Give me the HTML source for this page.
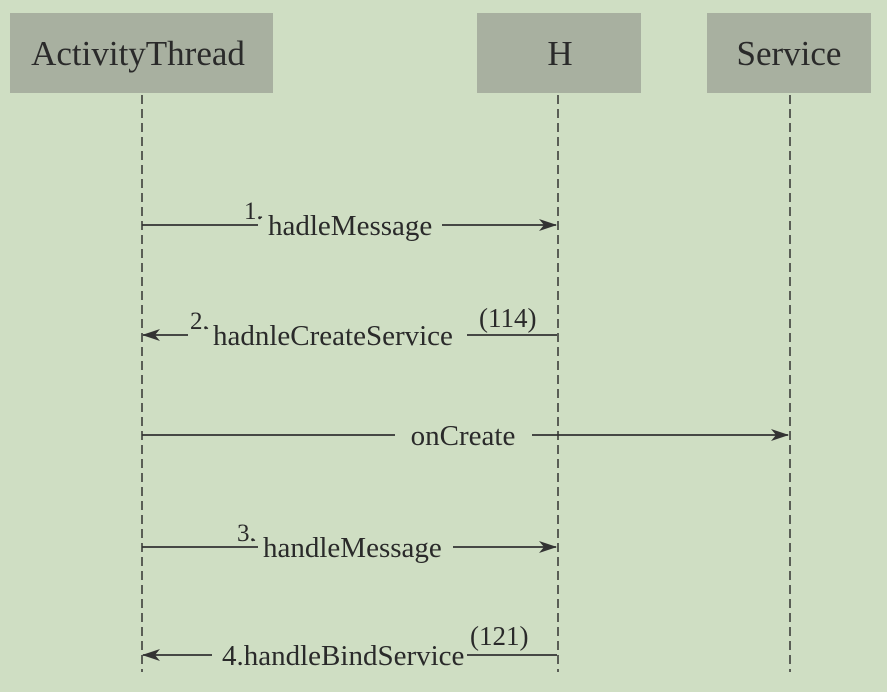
<!DOCTYPE html>
<html><head><style>
body{margin:0;background:#cfdec3;}
svg{display:block}
text{font-family:"Liberation Serif",serif;fill:#2a2a2a}
</style></head><body>
<svg width="887" height="692" viewBox="0 0 887 692">
<rect width="887" height="692" fill="#cfdec3"/>
<defs><marker id="a" markerWidth="18" markerHeight="12" refX="17" refY="6" orient="auto" markerUnits="userSpaceOnUse"><path d="M0,0 L18,6 L0,12 L5,6 Z" fill="#333"/></marker></defs>
<rect x="10" y="13" width="263" height="80" fill="#a8b0a0"/>
<rect x="477" y="13" width="164" height="80" fill="#a8b0a0"/>
<rect x="707" y="13" width="164" height="80" fill="#a8b0a0"/>
<text x="138" y="65" font-size="35" text-anchor="middle">ActivityThread</text>
<text x="560" y="65" font-size="35" text-anchor="middle">H</text>
<text x="789" y="65" font-size="35" text-anchor="middle">Service</text>
<g stroke="#333" stroke-width="1.5" stroke-dasharray="9,5">
<line x1="142" y1="95" x2="142" y2="672"/>
<line x1="558" y1="95" x2="558" y2="672"/>
<line x1="790" y1="95" x2="790" y2="672"/>
</g>
<g stroke="#333" stroke-width="1.8" fill="none">
<line x1="142" y1="225" x2="258" y2="225"/>
<line x1="442" y1="225" x2="556" y2="225" marker-end="url(#a)"/>
<line x1="188" y1="335" x2="143" y2="335" marker-end="url(#a)"/>
<line x1="467" y1="335" x2="557" y2="335"/>
<line x1="142" y1="435" x2="395" y2="435"/>
<line x1="532" y1="435" x2="788" y2="435" marker-end="url(#a)"/>
<line x1="142" y1="547" x2="258" y2="547"/>
<line x1="453" y1="547" x2="556" y2="547" marker-end="url(#a)"/>
<line x1="212" y1="655" x2="143" y2="655" marker-end="url(#a)"/>
<line x1="467" y1="655" x2="557" y2="655"/>
</g>
<g font-size="29">
<text x="244" y="219" font-size="25">1.</text><text x="259" y="222" font-size="14">·</text><text x="268" y="235">hadleMessage</text>
<text x="190" y="329" font-size="25">2.</text><text x="205" y="333" font-size="14">·</text><text x="213" y="345">hadnleCreateService</text>
<text x="479" y="327" font-size="27">(114)</text>
<text x="463" y="445" text-anchor="middle">onCreate</text>
<text x="237" y="541" font-size="25">3.</text><text x="252" y="545" font-size="14">·</text><text x="263" y="557">handleMessage</text>
<text x="222" y="665">4.handleBindService</text>
<text x="470" y="645" font-size="27">(121)</text>
</g>
</svg>
</body></html>
